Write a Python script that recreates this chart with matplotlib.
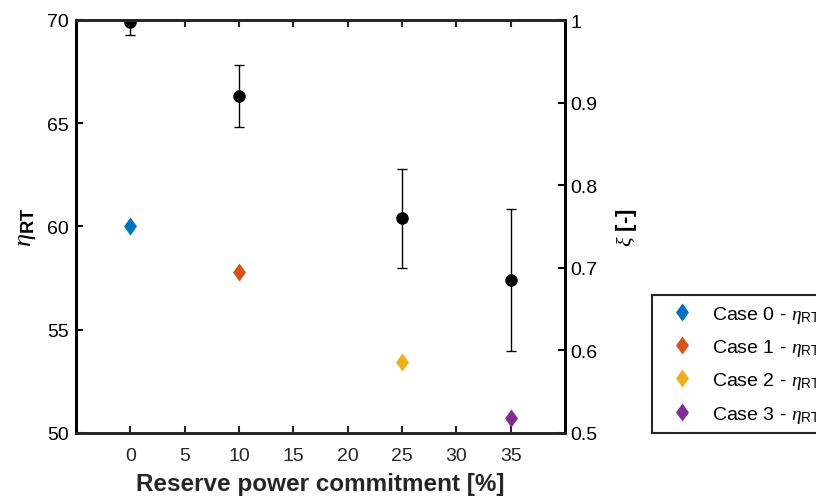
import numpy as np
import matplotlib
matplotlib.use("Agg")
import matplotlib.pyplot as plt
from matplotlib.path import Path

plt.rcParams['font.family'] = ['Liberation Sans', 'DejaVu Sans']
plt.rcParams['mathtext.fontset'] = 'custom'
plt.rcParams['mathtext.rm'] = 'Liberation Sans'
plt.rcParams['mathtext.it'] = 'Liberation Serif:italic'
plt.rcParams['mathtext.bf'] = 'Liberation Sans:bold'

# ---- data ----
reserve = [0, 10, 25, 35]                       # reserve power commitment [%]
eta_rt = [60.0, 57.8, 53.45, 50.72]             # left axis
xi = [0.998, 0.908, 0.760, 0.685]               # right axis
xi_err = [0.016, 0.037, 0.060, 0.086]
case_labels = ['Case 0', 'Case 1', 'Case 2', 'Case 3']
case_colors = ['#0072BD', '#D95319', '#EDB120', '#7E2F8E']
xticks = [0, 5, 10, 15, 20, 25, 30, 35]

# diamond a bit wider than matplotlib's thin one (MATLAB style)
diamond = Path([(0, 1), (0.72, 0), (0, -1), (-0.72, 0), (0, 1)],
               [Path.MOVETO, Path.LINETO, Path.LINETO, Path.LINETO, Path.CLOSEPOLY])

fig = plt.figure(figsize=(8.16, 5.02), dpi=100)
ax = fig.add_axes([76 / 816, 1 - 434 / 502, (565 - 76) / 816, (434 - 21) / 502])
ax2 = ax.twinx()

handles = []
for i in range(len(reserve)):
    h, = ax.plot(reserve[i], eta_rt[i], linestyle='none', marker=diamond,
                 markersize=13, color=case_colors[i], markeredgewidth=0,
                 label=case_labels[i] + r' - $\eta_{\mathrm{RT}}$')
    handles.append(h)

ax2.errorbar(reserve, xi, yerr=xi_err, fmt='o', color='black', ecolor='black',
             markersize=8, elinewidth=1.0, capsize=3.6, capthick=1.0)

ax.set_xlim(-5, 40)
ax.set_ylim(50, 70)
ax2.set_ylim(0.5, 1.0)
ax.set_xticks(xticks)
ax.set_yticks([50, 55, 60, 65, 70])
ax2.set_yticks([0.5, 0.6, 0.7, 0.8, 0.9, 1.0])
ax2.set_yticklabels(['0.5', '0.6', '0.7', '0.8', '0.9', '1'])

ax.tick_params(axis='x', direction='in', top=True, length=5, width=1.5,
               labelsize=14, colors='#262626', pad=10)
ax.tick_params(axis='y', direction='in', length=5, width=1.5, labelsize=14,
               colors='black', pad=5)
ax2.tick_params(axis='y', direction='in', length=5, width=1.5, labelsize=14,
                colors='black', pad=4)

for a in (ax, ax2):
    for side in ('top', 'bottom'):
        a.spines[side].set_color('#262626')
        a.spines[side].set_linewidth(2.0)
    for side in ('left', 'right'):
        a.spines[side].set_color('black')
        a.spines[side].set_linewidth(2.0)

ax.set_xlabel('Reserve power commitment [%]', fontsize=17.5, fontweight='bold',
              color='#262626', labelpad=6)
ax.set_ylabel(r'$\eta_{\mathbf{RT}}$', fontsize=19, labelpad=7)
ax2.set_ylabel(r'$\xi$ [-]', fontsize=16, fontweight='bold', rotation=90,
               labelpad=12)

leg = fig.legend(handles=handles, loc='upper left',
                 bbox_to_anchor=(652 / 816, 1 - 296 / 502),
                 fontsize=14, frameon=True, fancybox=False, framealpha=1,
                 edgecolor='#262626', borderpad=0.45, labelspacing=0.63,
                 handlelength=2.2, handletextpad=0.45, borderaxespad=0)
leg.get_frame().set_linewidth(1.5)

fig.savefig('out.png', dpi=100)
